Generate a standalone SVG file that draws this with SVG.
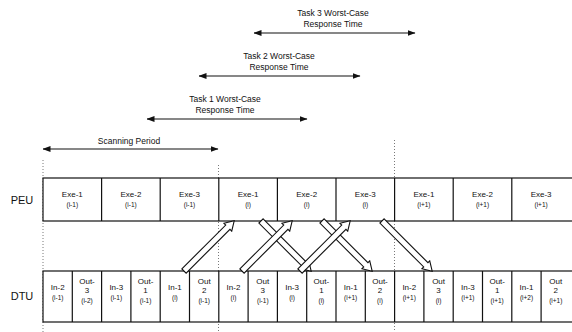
<svg xmlns="http://www.w3.org/2000/svg" width="572" height="332" viewBox="0 0 572 332">
  <style>
    text { font-family: "Liberation Sans", Arial, sans-serif; fill: #111; text-anchor: middle; }
    .lbl { font-size: 8.5px; }
    .big { font-size: 11px; }
    .t1 { font-size: 8px; }
    .t2 { font-size: 6.5px; }
    .box { fill: #fff; stroke: #111; stroke-width: 1.2; }
    .sep { stroke: #111; stroke-width: 1.2; }
    .dot { stroke: #555; stroke-width: 0.8; stroke-dasharray: 1 2; fill: none; }
    .span { stroke: #111; stroke-width: 1.1; fill: none; }
    .hollow { fill: #fff; stroke: #111; stroke-width: 1.1; stroke-linejoin: miter; }
  </style>
  <defs>
    <marker id="tip" viewBox="0 0 8 6" refX="7.5" refY="3" markerWidth="8" markerHeight="6" markerUnits="userSpaceOnUse" orient="auto-start-reverse">
      <path d="M0,0 L8,3 L0,6 Z" fill="#111"/>
    </marker>
    <!-- open double-line arrow, tail at origin, pointing along +x -->
    <path id="fat" d="M0,-3 L62,-3 L62,-5.5 L71,0 L62,5.5 L62,3 L0,3 Z"/>
  </defs>

  <!-- dotted time markers -->
  <g id="guides">
    <line class="dot" x1="43" y1="160" x2="43" y2="332"/>
    <line class="dot" x1="218.5" y1="165" x2="218.5" y2="332"/>
    <line class="dot" x1="394.5" y1="140" x2="394.5" y2="332"/>
  </g>

  <!-- timing spans -->
  <g id="spans">
    <g id="task3-span">
      <text class="lbl" x="333" y="16">Task 3 Worst-Case</text>
      <text class="lbl" x="333" y="26.5">Response Time</text>
      <line class="span" x1="254" y1="33" x2="415" y2="33" marker-start="url(#tip)" marker-end="url(#tip)"/>
    </g>
    <g id="task2-span">
      <text class="lbl" x="279" y="59">Task 2 Worst-Case</text>
      <text class="lbl" x="279" y="69.5">Response Time</text>
      <line class="span" x1="199" y1="76" x2="360" y2="76" marker-start="url(#tip)" marker-end="url(#tip)"/>
    </g>
    <g id="task1-span">
      <text class="lbl" x="225" y="102">Task 1 Worst-Case</text>
      <text class="lbl" x="225" y="112.5">Response Time</text>
      <line class="span" x1="147" y1="119" x2="307" y2="119" marker-start="url(#tip)" marker-end="url(#tip)"/>
    </g>
    <g id="scan-span">
      <text class="lbl" x="129" y="144">Scanning Period</text>
      <line class="span" x1="43" y1="149" x2="218" y2="149" marker-start="url(#tip)" marker-end="url(#tip)"/>
    </g>
  </g>

  <!-- row labels -->
  <text id="peu-label" class="big" x="22" y="204">PEU</text>
  <text id="dtu-label" class="big" x="22" y="300">DTU</text>

  <!-- PEU row -->
  <g id="peu">
    <rect class="box" x="43" y="178" width="540" height="43"/>
    <g class="sep">
      <line x1="101.6" y1="178" x2="101.6" y2="221"/>
      <line x1="160.2" y1="178" x2="160.2" y2="221"/>
      <line x1="218.8" y1="178" x2="218.8" y2="221"/>
      <line x1="277.4" y1="178" x2="277.4" y2="221"/>
      <line x1="336" y1="178" x2="336" y2="221"/>
      <line x1="394.6" y1="178" x2="394.6" y2="221"/>
      <line x1="453.2" y1="178" x2="453.2" y2="221"/>
      <line x1="511.8" y1="178" x2="511.8" y2="221"/>
    </g>
    <g id="exe1-prev"><text class="t1" x="72.3" y="197">Exe-1</text><text class="t2" x="72.3" y="207">(i-1)</text></g>
    <g id="exe2-prev"><text class="t1" x="130.9" y="197">Exe-2</text><text class="t2" x="130.9" y="207">(i-1)</text></g>
    <g id="exe3-prev"><text class="t1" x="189.5" y="197">Exe-3</text><text class="t2" x="189.5" y="207">(i-1)</text></g>
    <g id="exe1-cur"><text class="t1" x="248.1" y="197">Exe-1</text><text class="t2" x="248.1" y="207">(i)</text></g>
    <g id="exe2-cur"><text class="t1" x="306.7" y="197">Exe-2</text><text class="t2" x="306.7" y="207">(i)</text></g>
    <g id="exe3-cur"><text class="t1" x="365.3" y="197">Exe-3</text><text class="t2" x="365.3" y="207">(i)</text></g>
    <g id="exe1-next"><text class="t1" x="423.9" y="197">Exe-1</text><text class="t2" x="423.9" y="207">(i+1)</text></g>
    <g id="exe2-next"><text class="t1" x="482.5" y="197">Exe-2</text><text class="t2" x="482.5" y="207">(i+1)</text></g>
    <g id="exe3-next"><text class="t1" x="541.1" y="197">Exe-3</text><text class="t2" x="541.1" y="207">(i+1)</text></g>
  </g>

  <!-- DTU row -->
  <g id="dtu">
    <rect class="box" x="43" y="271" width="540" height="51"/>
    <g class="sep">
      <line x1="72.3" y1="271" x2="72.3" y2="322"/>
      <line x1="101.6" y1="271" x2="101.6" y2="322"/>
      <line x1="130.9" y1="271" x2="130.9" y2="322"/>
      <line x1="160.2" y1="271" x2="160.2" y2="322"/>
      <line x1="189.5" y1="271" x2="189.5" y2="322"/>
      <line x1="218.8" y1="271" x2="218.8" y2="322"/>
      <line x1="248.1" y1="271" x2="248.1" y2="322"/>
      <line x1="277.4" y1="271" x2="277.4" y2="322"/>
      <line x1="306.7" y1="271" x2="306.7" y2="322"/>
      <line x1="336" y1="271" x2="336" y2="322"/>
      <line x1="365.3" y1="271" x2="365.3" y2="322"/>
      <line x1="394.6" y1="271" x2="394.6" y2="322"/>
      <line x1="423.9" y1="271" x2="423.9" y2="322"/>
      <line x1="453.2" y1="271" x2="453.2" y2="322"/>
      <line x1="482.5" y1="271" x2="482.5" y2="322"/>
      <line x1="511.8" y1="271" x2="511.8" y2="322"/>
      <line x1="541.1" y1="271" x2="541.1" y2="322"/>
    </g>
    <g id="in2-prev"><text class="t1" x="57.7" y="290">In-2</text><text class="t2" x="57.7" y="300">(i-1)</text></g>
    <g id="out3-prev2"><text class="t1" x="87" y="284">Out-</text><text class="t1" x="87" y="293">3</text><text class="t2" x="87" y="303">(i-2)</text></g>
    <g id="in3-prev"><text class="t1" x="116.3" y="290">In-3</text><text class="t2" x="116.3" y="300">(i-1)</text></g>
    <g id="out1-prev"><text class="t1" x="145.6" y="284">Out-</text><text class="t1" x="145.6" y="293">1</text><text class="t2" x="145.6" y="303">(i-1)</text></g>
    <g id="in1-cur"><text class="t1" x="174.9" y="290">In-1</text><text class="t2" x="174.9" y="300">(i)</text></g>
    <g id="out2-prev"><text class="t1" x="204.2" y="284">Out</text><text class="t1" x="204.2" y="293">2</text><text class="t2" x="204.2" y="303">(i-1)</text></g>
    <g id="in2-cur"><text class="t1" x="233.5" y="290">In-2</text><text class="t2" x="233.5" y="300">(i)</text></g>
    <g id="out3-prev"><text class="t1" x="262.8" y="284">Out</text><text class="t1" x="262.8" y="293">3</text><text class="t2" x="262.8" y="303">(i-1)</text></g>
    <g id="in3-cur"><text class="t1" x="292.1" y="290">In-3</text><text class="t2" x="292.1" y="300">(i)</text></g>
    <g id="out1-cur"><text class="t1" x="321.4" y="284">Out-</text><text class="t1" x="321.4" y="293">1</text><text class="t2" x="321.4" y="303">(i)</text></g>
    <g id="in1-next"><text class="t1" x="350.7" y="290">In-1</text><text class="t2" x="350.7" y="300">(i+1)</text></g>
    <g id="out2-cur"><text class="t1" x="380" y="284">Out-</text><text class="t1" x="380" y="293">2</text><text class="t2" x="380" y="303">(i)</text></g>
    <g id="in2-next"><text class="t1" x="409.3" y="290">In-2</text><text class="t2" x="409.3" y="300">(i+1)</text></g>
    <g id="out3-cur"><text class="t1" x="438.6" y="284">Out</text><text class="t1" x="438.6" y="293">3</text><text class="t2" x="438.6" y="303">(i)</text></g>
    <g id="in3-next"><text class="t1" x="467.9" y="290">In-3</text><text class="t2" x="467.9" y="300">(i+1)</text></g>
    <g id="out1-next"><text class="t1" x="497.2" y="284">Out-</text><text class="t1" x="497.2" y="293">1</text><text class="t2" x="497.2" y="303">(i+1)</text></g>
    <g id="in1-next2"><text class="t1" x="526.5" y="290">In-1</text><text class="t2" x="526.5" y="300">(i+2)</text></g>
    <g id="out2-next"><text class="t1" x="555.8" y="284">Out</text><text class="t1" x="555.8" y="293">2</text><text class="t2" x="555.8" y="303">(i+1)</text></g>
  </g>

  <!-- data transfers between the units -->
  <g id="connectors">
    <!-- results: PEU down to DTU -->
    <use href="#fat" class="hollow" transform="translate(261,221) rotate(45)"/>
    <use href="#fat" class="hollow" transform="translate(322,221) rotate(45)"/>
    <use href="#fat" class="hollow" transform="translate(382,221) rotate(45)"/>
    <!-- inputs: DTU up to PEU -->
    <use href="#fat" class="hollow" transform="translate(184,271) rotate(-45)"/>
    <use href="#fat" class="hollow" transform="translate(242,271) rotate(-45)"/>
    <use href="#fat" class="hollow" transform="translate(300,271) rotate(-45)"/>
  </g>
</svg>
